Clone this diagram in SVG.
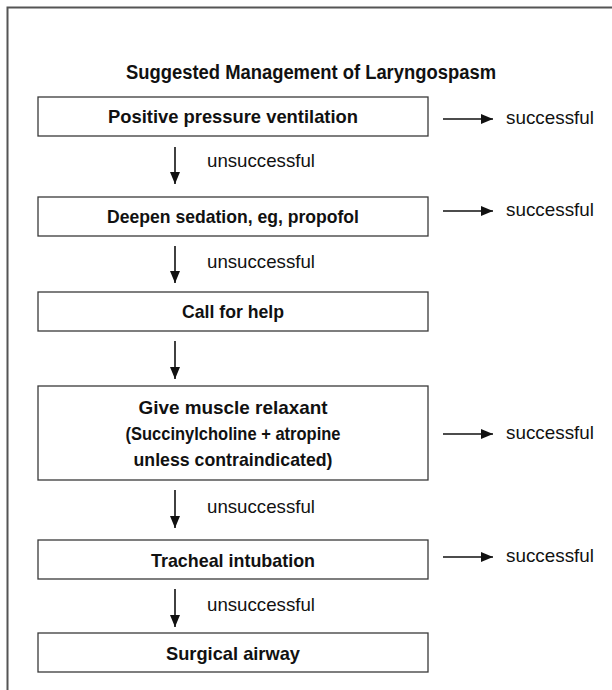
<svg xmlns="http://www.w3.org/2000/svg" width="612" height="690" viewBox="0 0 612 690">
<style>
.box{fill:#fff;stroke:#3a3a3a;stroke-width:1.3}
.bt{font-family:"Liberation Sans",Arial,sans-serif;font-weight:bold;font-size:19px;fill:#111;text-anchor:middle}
.lb{font-family:"Liberation Sans",Arial,sans-serif;font-size:19px;fill:#111}
.ttl{font-family:"Liberation Sans",Arial,sans-serif;font-weight:bold;font-size:20px;fill:#111;text-anchor:middle}
.ln{stroke:#111;stroke-width:1.6;fill:none}
</style>
<defs>
<marker id="ah" viewBox="0 0 12 10" refX="12" refY="5" markerWidth="12" markerHeight="10" markerUnits="userSpaceOnUse" orient="auto">
<path d="M0,0 L12,5 L0,10 Z" fill="#111"/>
</marker>
</defs>
<rect width="612" height="690" fill="#fff"/>
<path d="M7.5,690 V7.5 H612" fill="none" stroke="#555" stroke-width="2"/>
<text class="ttl" x="311" y="79" textLength="370" lengthAdjust="spacingAndGlyphs">Suggested Management of Laryngospasm</text>

<g id="n1"><rect class="box" x="38" y="97" width="390" height="39"/><text class="bt" x="233" y="123" textLength="250" lengthAdjust="spacingAndGlyphs">Positive pressure ventilation</text></g>
<g id="n2"><rect class="box" x="38" y="197" width="390" height="39"/><text class="bt" x="233" y="223" textLength="252" lengthAdjust="spacingAndGlyphs">Deepen sedation, eg, propofol</text></g>
<g id="n3"><rect class="box" x="38" y="292" width="390" height="39"/><text class="bt" x="233" y="318" textLength="102" lengthAdjust="spacingAndGlyphs">Call for help</text></g>
<g id="n4"><rect class="box" x="38" y="386" width="390" height="94"/>
<text class="bt" x="233" y="414" textLength="189" lengthAdjust="spacingAndGlyphs">Give muscle relaxant</text>
<text class="bt" x="233" y="440" textLength="215" lengthAdjust="spacingAndGlyphs">(Succinylcholine + atropine</text>
<text class="bt" x="233" y="466" textLength="199" lengthAdjust="spacingAndGlyphs">unless contraindicated)</text></g>
<g id="n5"><rect class="box" x="38" y="540" width="390" height="39"/><text class="bt" x="233" y="567" textLength="164" lengthAdjust="spacingAndGlyphs">Tracheal intubation</text></g>
<g id="n6"><rect class="box" x="38" y="633" width="390" height="39"/><text class="bt" x="233" y="660" textLength="134" lengthAdjust="spacingAndGlyphs">Surgical airway</text></g>

<g id="connectors">
<line class="ln" x1="175" y1="147" x2="175" y2="184" marker-end="url(#ah)"/>
<line class="ln" x1="175" y1="246" x2="175" y2="283" marker-end="url(#ah)"/>
<line class="ln" x1="175" y1="341" x2="175" y2="379" marker-end="url(#ah)"/>
<line class="ln" x1="175" y1="490" x2="175" y2="528" marker-end="url(#ah)"/>
<line class="ln" x1="175" y1="589" x2="175" y2="627" marker-end="url(#ah)"/>
<line class="ln" x1="443" y1="119" x2="493" y2="119" marker-end="url(#ah)"/>
<line class="ln" x1="443" y1="211" x2="493" y2="211" marker-end="url(#ah)"/>
<line class="ln" x1="443" y1="434" x2="493" y2="434" marker-end="url(#ah)"/>
<line class="ln" x1="443" y1="557" x2="493" y2="557" marker-end="url(#ah)"/>
</g>
<g id="labels">
<text class="lb" x="207" y="167" textLength="108" lengthAdjust="spacingAndGlyphs">unsuccessful</text>
<text class="lb" x="207" y="268" textLength="108" lengthAdjust="spacingAndGlyphs">unsuccessful</text>
<text class="lb" x="207" y="513" textLength="108" lengthAdjust="spacingAndGlyphs">unsuccessful</text>
<text class="lb" x="207" y="611" textLength="108" lengthAdjust="spacingAndGlyphs">unsuccessful</text>
<text class="lb" x="506" y="124" textLength="88" lengthAdjust="spacingAndGlyphs">successful</text>
<text class="lb" x="506" y="216" textLength="88" lengthAdjust="spacingAndGlyphs">successful</text>
<text class="lb" x="506" y="439" textLength="88" lengthAdjust="spacingAndGlyphs">successful</text>
<text class="lb" x="506" y="562" textLength="88" lengthAdjust="spacingAndGlyphs">successful</text>
</g>
</svg>
